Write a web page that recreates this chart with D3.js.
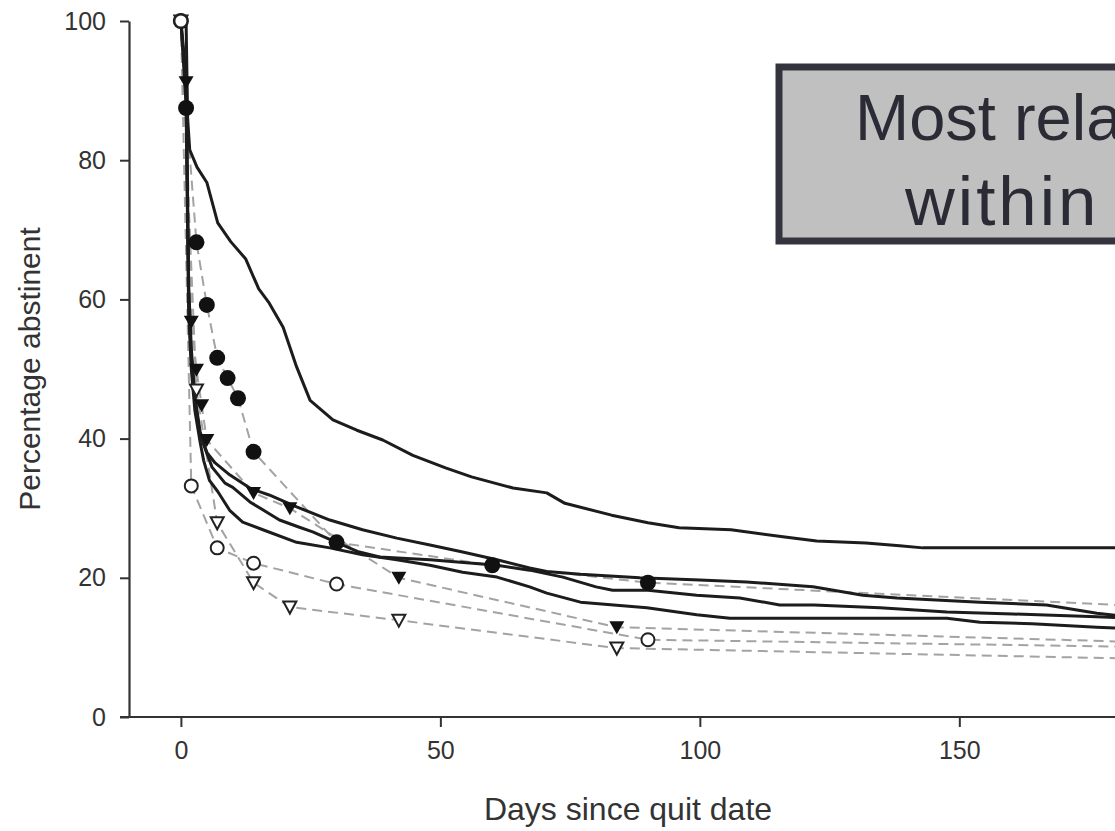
<!DOCTYPE html>
<html lang=en>
<head>
	<meta charset="utf-8">
	<title>abstinence curves</title>
	<script src="https://cdn.jsdelivr.net/npm/d3@7"></script>
	<style>
		body { margin: 0; background: #fff; }
		text { font-family: "Liberation Sans", Arial, sans-serif; }
	</style>
</head>

<body>
	<script type="text/javascript">
	// solid survival-type curves (day, percent)
	var highDays = [0, 1, 1.3, 1.7, 3.1, 5, 7.1, 9.6, 12.5, 15, 17, 19.7, 22.3, 24.9, 29.3, 33.9, 38.9, 44.7, 51, 56, 64, 70.5, 74, 83, 90, 96, 106, 116, 122.5, 132, 138.5, 143, 180];
	var highVals = [100, 100, 86, 81.5, 79, 76.8, 71, 68.3, 65.8, 61.5, 59.5, 56, 50.3, 45.5, 42.7, 41.2, 39.8, 37.6, 35.8, 34.5, 32.9, 32.2, 30.7, 29, 27.9, 27.2, 26.9, 25.9, 25.3, 25, 24.6, 24.3, 24.3];

	var aDays = [0, 1, 1.5, 2, 2.7, 3.7, 5, 6.6, 9.4, 13.5, 17, 22.3, 28.7, 35, 41.6, 48, 54.3, 60.9, 67.2, 70.5, 77, 88.4, 100, 109, 121.8, 131.4, 138, 154, 166.8, 176.5, 180];
	var aVals = [100, 92, 62, 53, 46, 41, 38, 36.5, 34.8, 32.8, 31.9, 30.2, 28.3, 26.9, 25.7, 24.7, 23.7, 22.6, 21.4, 20.9, 20.5, 20, 19.7, 19.4, 18.7, 17.5, 17.1, 16.5, 16.1, 14.9, 14.6];

	var bDays = [0, 1, 1.5, 2, 2.7, 3.7, 5, 6, 8.5, 10, 13.3, 16.4, 19, 22.7, 25.4, 30, 34, 38.3, 48, 60.9, 67.2, 73.6, 80, 83.2, 90, 99.4, 107.7, 115.4, 122, 134.7, 147.6, 160.3, 176.5, 180];
	var bVals = [100, 90, 60, 52, 45.5, 40.5, 37.9, 35.9, 33.6, 33, 30.9, 29.5, 28.3, 27.3, 26.6, 25.1, 23.8, 23, 22.6, 21.8, 21.1, 20.1, 18.7, 18.2, 18.2, 17.5, 17.1, 16.1, 16.1, 15.7, 15.1, 14.8, 14.4, 14.3];

	var cDays = [0, 1, 1.5, 2, 2.7, 3.7, 4.4, 5.5, 7.1, 9.4, 11.9, 15.8, 22.3, 28.7, 35, 41.6, 48, 54.3, 60.9, 67.2, 70.5, 77, 89.8, 99.4, 105.8, 147.6, 154, 164, 176.5, 180];
	var cVals = [100, 88, 58, 50, 44, 39.5, 36.8, 34, 32.4, 29.7, 28, 26.9, 25.1, 24.3, 23.3, 22.6, 21.8, 20.8, 20.1, 18.7, 17.8, 16.5, 15.7, 14.7, 14.2, 14.2, 13.6, 13.4, 12.9, 12.8];

	// dashed series with markers
	var fCircDays = [0, 1, 3, 5, 7, 9, 11, 14, 30, 60, 90, 183];
	var fCircVals = [100, 87.5, 68.2, 59.2, 51.6, 48.7, 45.8, 38.1, 25.1, 21.8, 19.3, 16];

	var fTriDays = [0, 1, 2, 3, 4, 5, 14, 21, 42, 84, 183];
	var fTriVals = [100, 91.2, 56.8, 49.9, 44.8, 39.8, 32.2, 30, 20, 12.9, 10.8];

	var oCircDays = [0, 2, 7, 14, 30, 90, 183];
	var oCircVals = [100, 33.2, 24.3, 22.1, 19.1, 11.1, 10.1];

	var oTriDays = [0, 3, 7, 14, 21, 42, 84, 183];
	var oTriVals = [100, 47, 27.9, 19.3, 15.8, 13.9, 9.9, 8.4];

	var xTicks = [0, 50, 100, 150];
	var yTicks = [0, 20, 40, 60, 80, 100];

	var noteLines = ["Most relapse occurs", "within first week"];

	function zip(days, vals){
		return days.map(function(d, i){ return {day: d, val: vals[i]}; });
	}

	var W = 1115, H = 831;
	var svg = d3.select('body').append('svg')
		.attr('width', W)
		.attr('height', H);

	var x = d3.scaleLinear().domain([-10, 180]).range([129, 1115]);
	var y = d3.scaleLinear().domain([0, 100]).range([717, 21]);

	var line = d3.line()
		.x(function(d){ return x(d.day); })
		.y(function(d){ return y(d.val); });

	// axes
	var yAxis = svg.append('g')
		.attr('transform', 'translate(129,0)')
		.call(d3.axisLeft(y).tickValues(yTicks).tickSize(9).tickSizeOuter(0).tickPadding(14));
	var xAxis = svg.append('g')
		.attr('transform', 'translate(0,717)')
		.call(d3.axisBottom(x).tickValues(xTicks).tickSize(10).tickSizeOuter(0).tickPadding(14));

	[xAxis, yAxis].forEach(function(g){
		g.select('.domain').attr('stroke', '#333').attr('stroke-width', 2.2);
		g.selectAll('.tick line').attr('stroke', '#333').attr('stroke-width', 2);
		g.selectAll('.tick text')
			.attr('fill', '#333')
			.style('font-size', '25px')
			.style('font-family', '"Liberation Sans", Arial, sans-serif');
	});
	// x axis line reaches the y axis corner
	xAxis.select('.domain').attr('d', 'M120,0H' + W);

	svg.append('text')
		.attr('transform', 'translate(40,369) rotate(-90)')
		.attr('text-anchor', 'middle')
		.attr('fill', '#333')
		.style('font-size', '30px')
		.text('Percentage abstinent');

	svg.append('text')
		.attr('x', 628)
		.attr('y', 820)
		.attr('text-anchor', 'middle')
		.attr('fill', '#333')
		.style('font-size', '32px')
		.text('Days since quit date');

	// dashed series
	var dashed = [
		zip(fCircDays, fCircVals),
		zip(fTriDays, fTriVals),
		zip(oCircDays, oCircVals),
		zip(oTriDays, oTriVals)
	];
	svg.selectAll('path.dash')
		.data(dashed)
		.enter()
		.append('path')
		.attr('class', 'dash')
		.attr('d', line)
		.attr('fill', 'none')
		.attr('stroke', '#a3a3a3')
		.attr('stroke-width', 2)
		.attr('stroke-dasharray', '10,6');

	// solid curves
	var solids = [zip(highDays, highVals), zip(aDays, aVals), zip(bDays, bVals), zip(cDays, cVals)];
	svg.selectAll('path.solid')
		.data(solids)
		.enter()
		.append('path')
		.attr('class', 'solid')
		.attr('d', line)
		.attr('fill', 'none')
		.attr('stroke', '#1c1c1c')
		.attr('stroke-width', 3)
		.attr('stroke-linejoin', 'round');

	// markers
	svg.selectAll('path.ftri')
		.data(zip(fTriDays, fTriVals))
		.enter()
		.append('path')
		.attr('class', 'ftri')
		.attr('d', 'M-7.5,-6L7.5,-6L0,7Z')
		.attr('transform', function(d){ return 'translate(' + x(d.day) + ',' + y(d.val) + ')'; })
		.attr('fill', '#111');

	svg.selectAll('circle.fcirc')
		.data(zip(fCircDays, fCircVals))
		.enter()
		.append('circle')
		.attr('class', 'fcirc')
		.attr('cx', function(d){ return x(d.day); })
		.attr('cy', function(d){ return y(d.val); })
		.attr('r', 8)
		.attr('fill', '#111');

	svg.selectAll('path.otri')
		.data(zip(oTriDays, oTriVals))
		.enter()
		.append('path')
		.attr('class', 'otri')
		.attr('d', 'M-6.5,-5.5L6.5,-5.5L0,6.5Z')
		.attr('transform', function(d){ return 'translate(' + x(d.day) + ',' + y(d.val) + ')'; })
		.attr('fill', '#fff')
		.attr('stroke', '#222')
		.attr('stroke-width', 2);

	svg.selectAll('circle.ocirc')
		.data(zip(oCircDays, oCircVals))
		.enter()
		.append('circle')
		.attr('class', 'ocirc')
		.attr('cx', function(d){ return x(d.day); })
		.attr('cy', function(d){ return y(d.val); })
		.attr('r', 6.5)
		.attr('fill', '#fff')
		.attr('stroke', '#222')
		.attr('stroke-width', 2);

	// annotation box
	var note = svg.append('g');
	note.append('rect')
		.attr('x', 779)
		.attr('y', 67)
		.attr('width', 420)
		.attr('height', 174)
		.attr('fill', '#c0c0c0')
		.attr('stroke', '#34343e')
		.attr('stroke-width', 7);
	note.selectAll('text')
		.data(noteLines)
		.enter()
		.append('text')
		.attr('x', function(d, i){ return i == 0 ? 855 : 905; })
		.attr('y', function(d, i){ return i == 0 ? 140 : 225; })
		.attr('fill', '#2b2b35')
		.style('font-size', function(d, i){ return i == 0 ? '65px' : '69px'; })
		.style('letter-spacing', function(d, i){ return i == 0 ? '0px' : '3px'; })
		.text(function(d){ return d; });
	</script>
</body>
</html>
